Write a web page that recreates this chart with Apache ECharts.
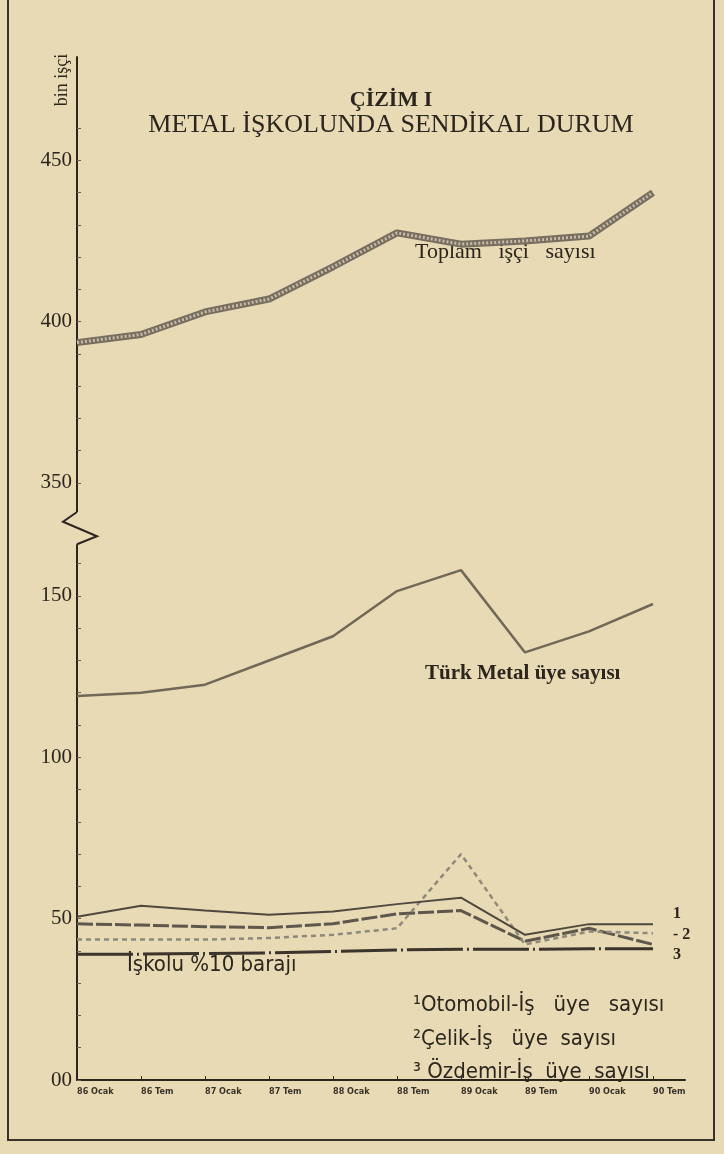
<!DOCTYPE html>
<html>
<head>
<meta charset="utf-8">
<script src="https://cdn.jsdelivr.net/npm/echarts@6/dist/echarts.min.js"></script>
<style>
html, body { margin: 0; padding: 0; background: #e7dab5; }
#chart { width: 724px; height: 1154px; }
</style>
</head>
<body>
<div id="chart"></div>
<script>
// dönemler
const donemler = ['86 Ocak', '86 Tem', '87 Ocak', '87 Tem', '88 Ocak', '88 Tem', '89 Ocak', '89 Tem', '90 Ocak', '90 Tem'];

// bin işçi
const toplamIsci = [393.5, 396, 403, 407, 417, 427.5, 424, 425, 426.5, 440];
const turkMetal = [119, 120, 122.5, 130, 137.5, 151.5, 158, 132.5, 139, 147.5];
const otomobilIs = [50.6, 54, 52.5, 51.2, 52.2, 54.5, 56.5, 45, 48.3, 48.3];
const celikIs = [43.5, 43.5, 43.5, 44, 45, 47, 70, 42, 46, 45.5];
const ozdemirIs = [48.4, 48, 47.5, 47.2, 48.4, 51.5, 52.5, 43, 47, 42];
const baraj = [39, 39, 39.2, 39.4, 39.8, 40.3, 40.5, 40.5, 40.7, 40.7];

// kırık eksen etiketleri
const yTickValues = [0, 50, 100, 150, 350, 400, 450];
const yTickLabels = ['00', '50', '100', '150', '350', '400', '450'];
const BREAK_SHIFT = 165; // 350 ve üstü 165 aşağı kaydırılarak çiziliyor

function toAxis(v) {
    return v >= 300 ? v - BREAK_SHIFT : v;
}
function pairs(arr) {
    return arr.map((v, i) => [i, toAxis(v)]);
}

const ink = '#2b251e';
const paper = '#e7dab5';
const serif = '"Liberation Serif", "DejaVu Serif", serif';
const narrow = '"Liberation Sans Narrow", "DejaVu Sans Condensed", "Liberation Sans", sans-serif';

const yLabelPos = yTickValues.map(toAxis);
const yMinorTicks = [];
for (let v = 0; v <= 160; v += 10) yMinorTicks.push(v);
for (let v = 350; v <= 460; v += 10) yMinorTicks.push(toAxis(v));

const chart = echarts.init(document.getElementById('chart'));

const option = {
    backgroundColor: paper,
    animation: false,
    grid: { left: 77, right: 39, top: 57, bottom: 74, outerBoundsMode: 'none' },
    xAxis: {
        type: 'value',
        min: 0,
        max: 9.5,
        splitLine: { show: false },
        axisLine: { lineStyle: { color: ink, width: 2 } },
        axisTick: { inside: true, length: 4, customValues: donemler.map((d, i) => i), lineStyle: { color: ink } },
        axisLabel: {
            customValues: donemler.map((d, i) => i),
            formatter: v => donemler[v] || '',
            align: 'left',
            margin: 7,
            color: '#3a3228',
            fontSize: 9,
            fontWeight: 'bold',
            fontFamily: narrow
        }
    },
    yAxis: {
        type: 'value',
        min: 0,
        max: 317,
        splitLine: { show: false },
        axisLine: { show: true, lineStyle: { color: ink, width: 2 } },
        axisTick: { show: true, inside: true, length: 4, customValues: yMinorTicks, lineStyle: { color: '#6a6052' } },
        axisLabel: {
            customValues: yLabelPos,
            formatter: v => yTickLabels[yLabelPos.indexOf(v)] || '',
            margin: 5,
            color: ink,
            fontSize: 21,
            fontFamily: serif
        }
    },
    series: [
        {
            name: 'Toplam işçi sayısı',
            type: 'line',
            data: pairs(toplamIsci),
            symbol: 'none',
            lineStyle: { color: '#776e60', width: 7 },
            z: 2
        },
        {
            name: 'Toplam işçi sayısı (tarama)',
            type: 'line',
            data: pairs(toplamIsci),
            symbol: 'none',
            lineStyle: { color: '#c6bca6', width: 3, type: [2, 2] },
            z: 3
        },
        {
            name: 'Türk Metal üye sayısı',
            type: 'line',
            data: pairs(turkMetal),
            symbol: 'none',
            lineStyle: { color: '#716858', width: 2.5 }
        },
        {
            name: 'İşkolu %10 barajı',
            type: 'line',
            data: pairs(baraj),
            symbol: 'none',
            lineStyle: { color: '#3a342b', width: 3, type: [56, 4, 2, 4] }
        },
        {
            name: 'Özdemir-İş üye sayısı',
            type: 'line',
            data: pairs(ozdemirIs),
            symbol: 'none',
            lineStyle: { color: '#5e574c', width: 3, type: [16, 3] },
            endLabel: { show: true, formatter: '3', offset: [12, 10], color: ink, fontSize: 16, fontWeight: 'bold', fontFamily: serif }
        },
        {
            name: 'Çelik-İş üye sayısı',
            type: 'line',
            data: pairs(celikIs),
            symbol: 'none',
            lineStyle: { color: '#8f887b', width: 2.5, type: [5, 4] },
            endLabel: { show: true, formatter: '- 2', offset: [12, 2], color: ink, fontSize: 16, fontWeight: 'bold', fontFamily: serif }
        },
        {
            name: 'Otomobil-İş üye sayısı',
            type: 'line',
            data: pairs(otomobilIs),
            symbol: 'none',
            lineStyle: { color: '#4f483e', width: 2 },
            endLabel: { show: true, formatter: '1', offset: [12, -10], color: ink, fontSize: 16, fontWeight: 'bold', fontFamily: serif }
        }
    ]
};

chart.setOption(option);

// çerçeve, başlıklar, eksen kırığı
const ax = chart.convertToPixel({ xAxisIndex: 0 }, 0);
const bTop = chart.convertToPixel({ yAxisIndex: 0 }, 176);
const bBot = chart.convertToPixel({ yAxisIndex: 0 }, 166);
const bh = bBot - bTop;

chart.setOption({
    graphic: [
        { type: 'polyline', shape: { points: [[8, 0], [8, 1140], [714, 1140], [714, 0]] }, style: { stroke: '#3b3329', lineWidth: 2, fill: null } },
        { type: 'rect', shape: { x: ax - 3, y: bTop, width: 6, height: bh }, style: { fill: paper }, z: 10 },
        {
            type: 'polyline', z: 11,
            shape: { points: [[ax, bTop], [ax - 14, bTop + bh * 0.3], [ax + 20, bTop + bh * 0.75], [ax, bBot]] },
            style: { stroke: ink, lineWidth: 2, fill: null }
        },
        { type: 'text', x: 391, y: 100, style: { text: 'ÇİZİM I', font: 'bold 22px ' + serif, fill: ink, align: 'center', verticalAlign: 'middle' } },
        { type: 'text', x: 391, y: 125, style: { text: 'METAL İŞKOLUNDA SENDİKAL DURUM', font: '26px ' + serif, fill: ink, align: 'center', verticalAlign: 'middle' } },
        { type: 'text', x: 62, y: 80, rotation: Math.PI / 2, style: { text: 'bin işçi', font: '18px ' + serif, fill: ink, align: 'center', verticalAlign: 'middle' } },
        { type: 'text', x: 415, y: 252, style: { text: 'Toplam   işçi   sayısı', font: '22px ' + serif, fill: ink, verticalAlign: 'middle' } },
        { type: 'text', x: 425, y: 674, style: { text: 'Türk Metal üye sayısı', font: 'bold 21px ' + serif, fill: ink, verticalAlign: 'middle' } },
        { type: 'text', x: 127, y: 965, style: { text: 'İşkolu %10 barajı', font: '22px ' + narrow, fill: ink, verticalAlign: 'middle' } },
        { type: 'text', x: 413, y: 1005, style: { text: '¹Otomobil-İş   üye   sayısı', font: '22px ' + narrow, fill: ink, verticalAlign: 'middle' } },
        { type: 'text', x: 413, y: 1039, style: { text: '²Çelik-İş   üye  sayısı', font: '22px ' + narrow, fill: ink, verticalAlign: 'middle' } },
        { type: 'text', x: 413, y: 1072, style: { text: '³ Özdemir-İş  üye  sayısı', font: '22px ' + narrow, fill: ink, verticalAlign: 'middle' } }
    ]
});
</script>
</body>
</html>
